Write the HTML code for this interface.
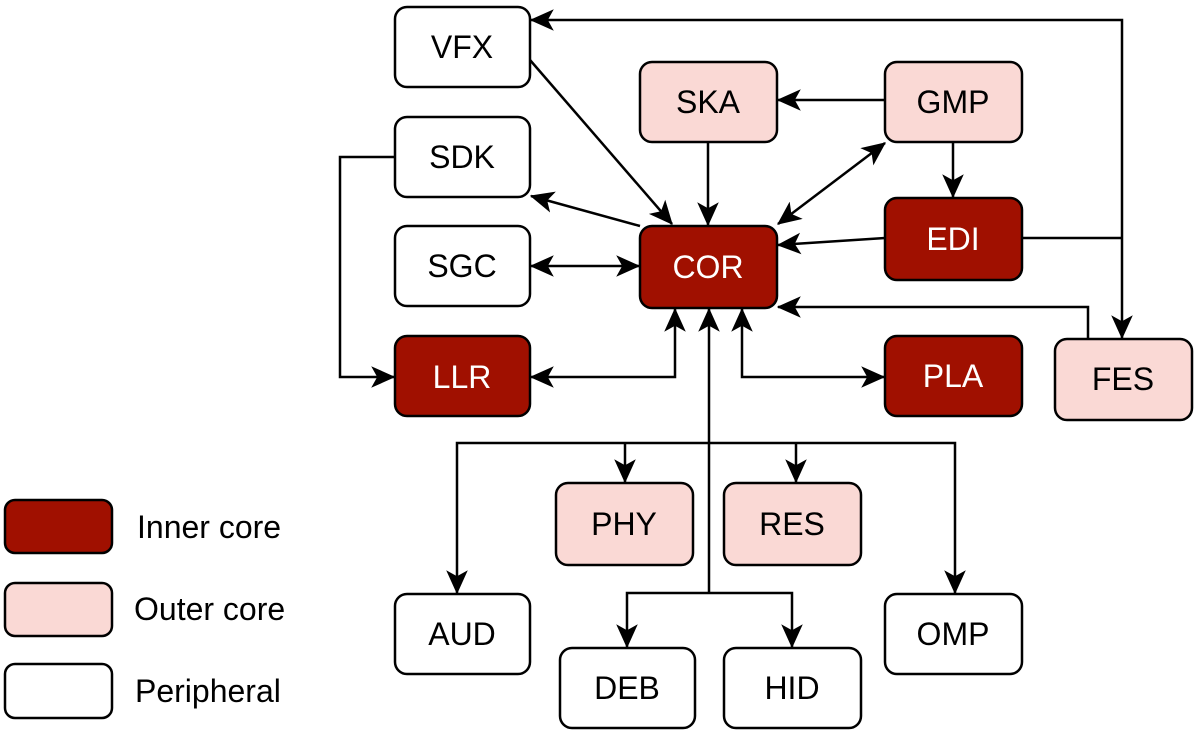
<!DOCTYPE html>
<html><head><style>body{margin:0;background:#fff}svg{display:block}</style></head><body>
<svg width="1195" height="742" viewBox="0 0 1195 742" xmlns="http://www.w3.org/2000/svg" font-family="Liberation Sans, Arial, sans-serif">
<defs>
<marker id="a" viewBox="0 0 20 20" refX="19" refY="10" markerWidth="24" markerHeight="24" markerUnits="userSpaceOnUse" orient="auto-start-reverse">
<path d="M0,1 L20,10 L0,19 L5,10 Z" fill="#000"/>
</marker>
</defs>
<g fill="none" stroke="#000" stroke-width="2.5">
<line x1="530" y1="60" x2="672" y2="224" marker-end="url(#a)"/>
<line x1="708" y1="142" x2="708" y2="225" marker-end="url(#a)"/>
<line x1="885" y1="100" x2="778" y2="100" marker-end="url(#a)"/>
<line x1="885" y1="143" x2="778" y2="224" marker-start="url(#a)" marker-end="url(#a)"/>
<line x1="953" y1="142" x2="953" y2="197" marker-end="url(#a)"/>
<line x1="885" y1="238" x2="778" y2="245" marker-end="url(#a)"/>
<polyline points="1022,238 1122,238"/>
<polyline points="531,20 1122,20 1122,338" marker-start="url(#a)" marker-end="url(#a)"/>
<polyline points="1088,339 1088,307 778,307" marker-end="url(#a)"/>
<line x1="640" y1="226" x2="531" y2="196" marker-end="url(#a)"/>
<line x1="531" y1="266" x2="639" y2="266" marker-start="url(#a)" marker-end="url(#a)"/>
<polyline points="395,157 340,157 340,377 394,377" marker-end="url(#a)"/>
<polyline points="531,377 675,377 675,309" marker-start="url(#a)" marker-end="url(#a)"/>
<polyline points="884,377 742,377 742,309" marker-start="url(#a)" marker-end="url(#a)"/>
<polyline points="709,593 709,309" marker-end="url(#a)"/>
<polyline points="457,593 457,443 955,443 955,593" marker-start="url(#a)" marker-end="url(#a)"/>
<polyline points="625,443 625,482" marker-end="url(#a)"/>
<polyline points="796,443 796,482" marker-end="url(#a)"/>
<polyline points="627,647 627,593 792,593 792,647" marker-start="url(#a)" marker-end="url(#a)"/>
</g>
<g stroke="#000" stroke-width="2.5">
<rect x="395" y="7" width="135" height="80" rx="12" fill="#fff"/>
<rect x="395" y="117" width="135" height="80" rx="12" fill="#fff"/>
<rect x="395" y="226" width="135" height="80" rx="12" fill="#fff"/>
<rect x="395" y="336" width="135" height="80" rx="12" fill="#a01000"/>
<rect x="640" y="62" width="137" height="80" rx="12" fill="#fad9d5"/>
<rect x="885" y="62" width="137" height="80" rx="12" fill="#fad9d5"/>
<rect x="640" y="226" width="137" height="82" rx="12" fill="#a01000"/>
<rect x="885" y="198" width="137" height="82" rx="12" fill="#a01000"/>
<rect x="885" y="336" width="137" height="80" rx="12" fill="#a01000"/>
<rect x="1055" y="339" width="137" height="81" rx="12" fill="#fad9d5"/>
<rect x="556" y="483" width="137" height="82" rx="12" fill="#fad9d5"/>
<rect x="724" y="483" width="137" height="82" rx="12" fill="#fad9d5"/>
<rect x="395" y="594" width="135" height="80" rx="12" fill="#fff"/>
<rect x="885" y="594" width="137" height="80" rx="12" fill="#fff"/>
<rect x="560" y="648" width="135" height="80" rx="12" fill="#fff"/>
<rect x="724" y="648" width="137" height="80" rx="12" fill="#fff"/>
<rect x="5" y="500" width="107" height="53" rx="10" fill="#a01000"/>
<rect x="5" y="583" width="107" height="53" rx="10" fill="#fad9d5"/>
<rect x="5" y="664" width="107" height="54" rx="10" fill="#fff"/>
</g>
<g font-size="32" text-anchor="middle" fill="#000">
<text x="462" y="58">VFX</text>
<text x="462" y="168">SDK</text>
<text x="462" y="277">SGC</text>
<text x="462" y="388" fill="#fff">LLR</text>
<text x="708" y="113">SKA</text>
<text x="953" y="113">GMP</text>
<text x="708" y="278" fill="#fff">COR</text>
<text x="953" y="250" fill="#fff">EDI</text>
<text x="953" y="387" fill="#fff">PLA</text>
<text x="1123" y="390">FES</text>
<text x="624" y="535">PHY</text>
<text x="792" y="535">RES</text>
<text x="462" y="645">AUD</text>
<text x="953" y="645">OMP</text>
<text x="627" y="699">DEB</text>
<text x="792" y="699">HID</text>
</g>
<g font-size="32" fill="#000">
<text x="137" y="538">Inner core</text>
<text x="134" y="620">Outer core</text>
<text x="135" y="702">Peripheral</text>
</g>
</svg>
</body></html>
